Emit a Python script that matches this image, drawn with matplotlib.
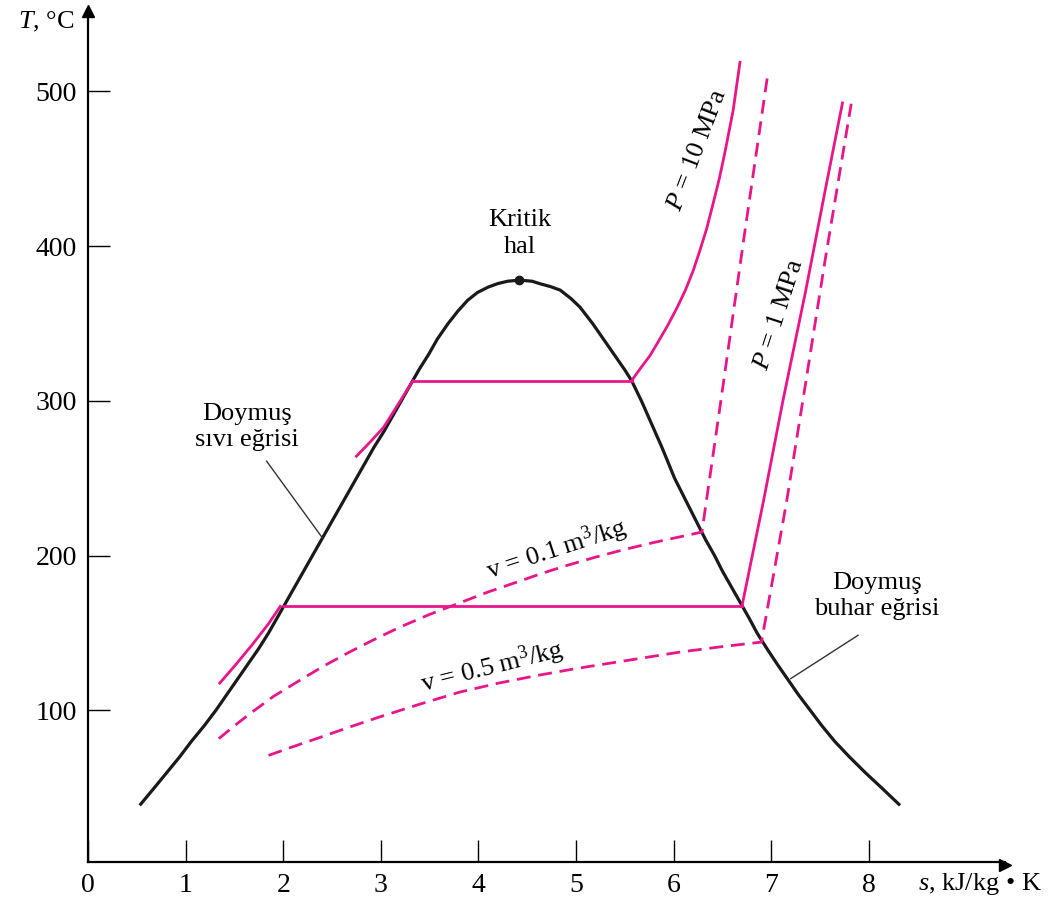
import matplotlib
matplotlib.use("Agg")
import matplotlib.pyplot as plt

# ── Style ─────────────────────────────────────────────────────
plt.rcParams["font.family"] = ["Liberation Serif", "DejaVu Serif"]
plt.rcParams["mathtext.fontset"] = "custom"
plt.rcParams["mathtext.rm"] = "Liberation Serif"
plt.rcParams["mathtext.it"] = "Liberation Serif:italic"
PINK = "#E8168A"
INK = "#1a1a1a"
FS = 19

# ── Data ──────────────────────────────────────────────────────
# saturated liquid line (s, T)
liq_s = [0.53, 0.68, 0.81, 0.94, 1.06, 1.19, 1.31, 1.42, 1.53, 1.64, 1.75, 1.85,
         1.94, 2.03, 2.12, 2.21, 2.30, 2.39, 2.48, 2.57, 2.66, 2.75, 2.84, 2.93,
         3.03, 3.12, 3.21, 3.30, 3.39, 3.49, 3.58, 3.69, 3.79, 3.89, 3.99, 4.10,
         4.20, 4.30, 4.42]
liq_T = [38.6, 50, 60, 70, 80, 90, 100, 110, 120, 130, 140, 150,
         160, 170, 180, 190, 200, 210, 220, 230, 240, 250, 260, 270,
         280, 290, 300, 310, 320, 330, 340, 350, 358, 365, 370, 373.5,
         375.8, 377.3, 378]
# saturated vapour line (s, T)
vap_s = [4.42, 4.55, 4.63, 4.74, 4.84, 4.95, 5.04, 5.17, 5.28, 5.39, 5.50, 5.57,
         5.67, 5.74, 5.81, 5.88, 5.945, 6.01, 6.09, 6.17, 6.25, 6.33, 6.42, 6.50,
         6.59, 6.68, 6.77, 6.855, 6.955, 7.06, 7.17, 7.28, 7.40, 7.52, 7.65, 7.80,
         7.96, 8.13, 8.32]
vap_T = [378, 377.3, 375.7, 373.8, 371.5, 366, 360.6, 350, 340, 330, 320, 313,
         300, 290, 280, 270, 260, 250, 240, 230, 220, 210, 200, 190,
         180, 170, 160, 150, 140, 130, 120, 110, 100, 90, 80, 70,
         60, 50, 38.6]
crit_s, crit_T = 4.42, 378

# P = 10 MPa isobar
p10_liq_s = [2.75, 2.90, 3.03, 3.16, 3.33]
p10_liq_T = [264.2, 274, 283, 296, 313]
p10_sat_s = [3.33, 5.57]
p10_sat_T = [313, 313]
p10_sup_s = [5.57, 5.66, 5.76, 5.85, 5.94, 6.03, 6.12, 6.20, 6.27, 6.34, 6.40, 6.47, 6.53, 6.61, 6.68]
p10_sup_T = [313, 321, 329.4, 339, 348.8, 359.5, 371.4, 384, 397.3, 411.5, 426.3, 444, 461.9, 487.7, 518.8]

# P = 1 MPa isobar
p1_liq_s = [1.35, 1.52, 1.69, 1.85, 1.97]
p1_liq_T = [117.6, 130, 143, 156, 167.2]
p1_sat_s = [2.00, 6.70]
p1_sat_T = [167.2, 167.2]
p1_sup_s = [6.70, 6.92, 7.12, 7.35, 7.55, 7.73]
p1_sup_T = [167.2, 235, 300, 370, 435, 492.5]

# v = 0.1 m3/kg isochore
v01_s = [1.34, 1.50, 1.66, 1.90, 2.17, 2.42, 2.68, 2.94, 3.20, 3.50, 3.81, 4.10,
         4.40, 4.65, 4.90, 5.20, 5.50, 5.80, 6.07, 6.29, 6.49, 6.72, 6.96]
v01_T = [81.7, 90, 97.9, 109, 119.4, 128.8, 137.7, 146, 153.9, 162, 169.5, 176.5,
         183, 188.5, 193.5, 199, 204, 208.5, 212.2, 215.2, 302.5, 405, 509]

# v = 0.5 m3/kg isochore
v05_s = [1.85, 2.10, 2.40, 2.68, 3.00, 3.40, 3.81, 4.20, 4.60, 5.00, 5.40, 5.80,
         6.07, 6.50, 6.90, 7.16, 7.33, 7.55, 7.82]
v05_T = [70.9, 76.5, 83, 89.2, 96, 104, 111.8, 117.5, 122.5, 127, 131, 135,
         137.7, 141.2, 144.1, 235.7, 302.5, 390, 492]

x_ticks = [0, 1, 2, 3, 4, 5, 6, 7, 8]
y_ticks = [100, 200, 300, 400, 500]

# ── Figure ────────────────────────────────────────────────────
W, H = 1053, 907
fig = plt.figure(figsize=(W / 100, H / 100), dpi=100)
x0, x1, y0, y1 = 88, 88 + 9.4 * 97.6, 862, 862 - 550 * 1.5475
ax = fig.add_axes([x0 / W, 1 - y0 / H, (x1 - x0) / W, (y0 - y1) / H])
ax.set_xlim(0, 9.4)
ax.set_ylim(2, 552)

for side in ("top", "right"):
    ax.spines[side].set_visible(False)
for side in ("left", "bottom"):
    ax.spines[side].set_linewidth(1.6)
ax.plot(1, 0, ">k", ms=9, transform=ax.get_yaxis_transform(), clip_on=False)
ax.plot(0, 1, "^k", ms=9, transform=ax.get_xaxis_transform(), clip_on=False)

ax.set_xticks(x_ticks)
ax.set_yticks(y_ticks)
ax.tick_params(direction="in", length=16, width=1, labelsize=20, pad=8)

# dome
ax.plot(liq_s, liq_T, color=INK, lw=2.3, solid_capstyle="butt")
ax.plot(vap_s, vap_T, color=INK, lw=2.3, solid_capstyle="butt")
ax.plot(crit_s, crit_T, "o", color=INK, ms=6)

# isobars
for s, t in [(p10_liq_s, p10_liq_T), (p10_sat_s, p10_sat_T), (p10_sup_s, p10_sup_T),
             (p1_liq_s, p1_liq_T), (p1_sat_s, p1_sat_T), (p1_sup_s, p1_sup_T)]:
    ax.plot(s, t, color=PINK, lw=2)

# isochores
ax.plot(v01_s, v01_T, color=PINK, lw=2, ls=(0, (5, 2.8)))
ax.plot(v05_s, v05_T, color=PINK, lw=2, ls=(0, (5, 2.8)))

# leader lines
ax.plot([1.83, 2.40], [261, 211.6], color="#333333", lw=1)
ax.plot([7.89, 7.20], [148.5, 120.5], color="#333333", lw=1)

# ── Labels ────────────────────────────────────────────────────
ax.text(crit_s, 408, "Kritik\nhal", ha="center", va="center", fontsize=FS,
        linespacing=1.3)
ax.text(1.63, 283, "Doymuş\nsıvı eğrisi", ha="center", va="center", fontsize=FS,
        linespacing=1.2)
ax.text(8.08, 174, "Doymuş\nbuhar eğrisi", ha="center", va="center", fontsize=FS,
        linespacing=1.2)
ax.text(6.25, 462, "$P$ = 10 MPa", rotation=69, ha="center", va="center", fontsize=FS)
ax.text(7.08, 356, "$P$ = 1 MPa", rotation=72, ha="center", va="center", fontsize=FS)
ax.text(4.80, 204, "v = 0.1 m$^3$/kg", rotation=18, ha="center", va="center", fontsize=FS)
ax.text(4.14, 128, "v = 0.5 m$^3$/kg", rotation=14, ha="center", va="center", fontsize=FS)

fig.text(18 / W, 1 - 22 / H, "$T$, °C", ha="left", va="center", fontsize=FS)
fig.text(918 / W, 1 - 884 / H, "$s$, kJ/kg • K", ha="left", va="center", fontsize=FS)

fig.savefig("out.png", dpi=100)
